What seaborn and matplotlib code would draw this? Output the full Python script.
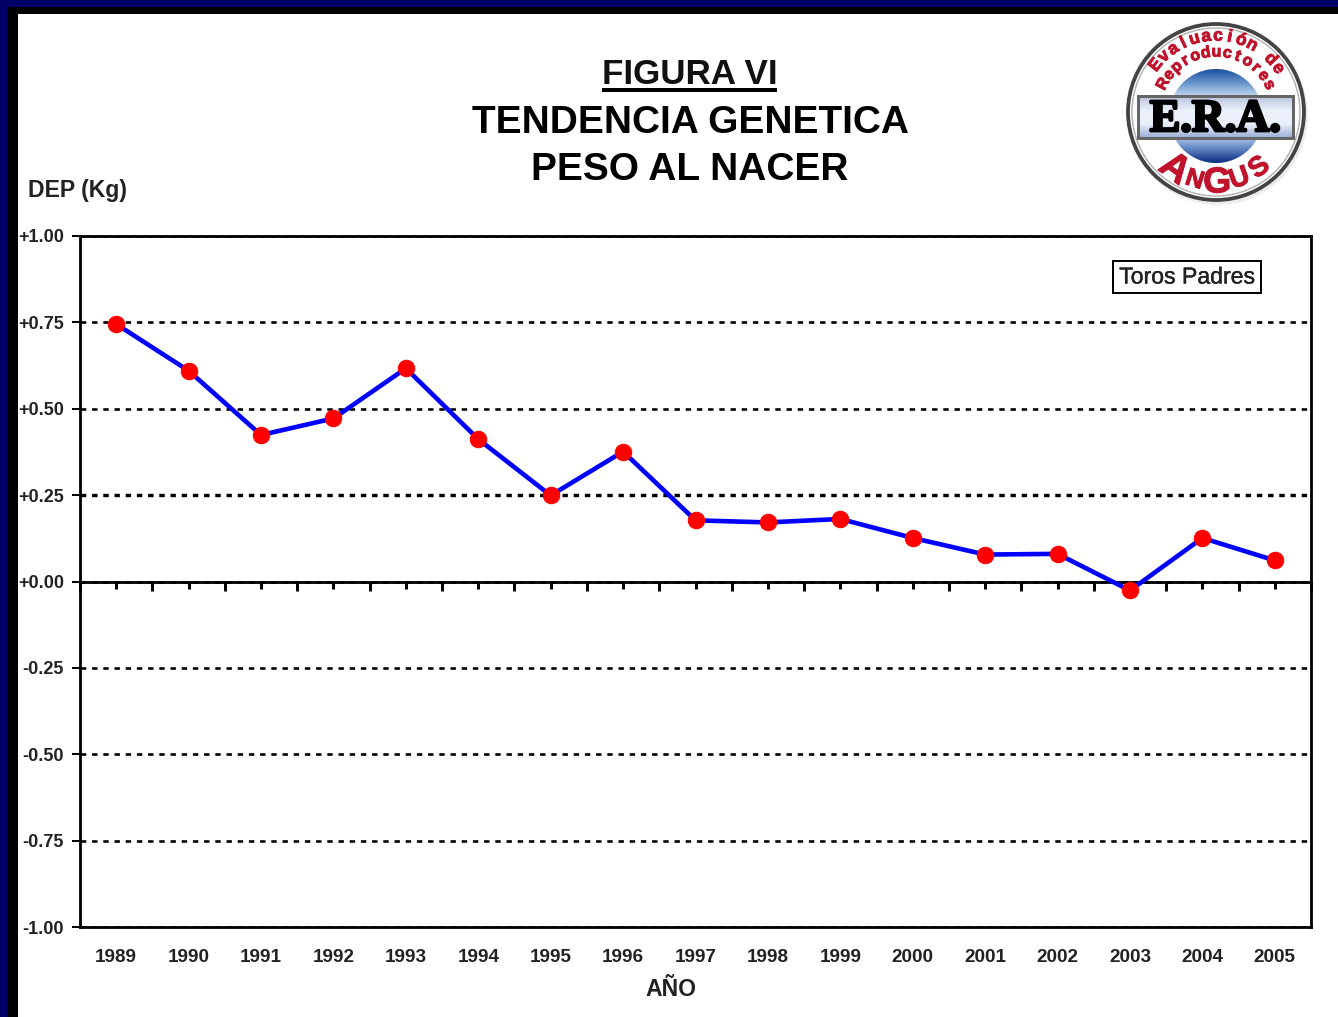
import numpy as np
import pandas as pd
import matplotlib
matplotlib.use('Agg')
import matplotlib.pyplot as plt
import matplotlib.patheffects as pe
from matplotlib.patches import Circle, Rectangle
from matplotlib.ticker import FixedLocator
import seaborn as sns

# Data
years = ['1989', '1990', '1991', '1992', '1993', '1994', '1995', '1996', '1997',
         '1998', '1999', '2000', '2001', '2002', '2003', '2004', '2005']
dep = [0.745, 0.61, 0.424, 0.472, 0.617, 0.412, 0.249, 0.376, 0.177,
       0.171, 0.181, 0.126, 0.078, 0.08, -0.026, 0.126, 0.061]
y_ticks = [1.0, 0.75, 0.5, 0.25, 0.0, -0.25, -0.5, -0.75, -1.0]
y_labels = ['+1.00', '+0.75', '+0.50', '+0.25', '+0.00', '-0.25', '-0.50', '-0.75', '-1.00']

W, H = 1338, 1017
PX = 0.72  # points per pixel at dpi 100

sns.set_theme(style='white')
plt.rcParams['font.family'] = ['Liberation Sans', 'DejaVu Sans']
plt.rcParams['lines.scale_dashes'] = False

fig = plt.figure(figsize=(W / 100, H / 100), dpi=100, facecolor='white')
ax = fig.add_axes([80 / W, 1 - 927 / H, (1311 - 80) / W, (927 - 236) / H])

df = pd.DataFrame({'year': years, 'dep': dep})
sns.lineplot(data=df, x='year', y='dep', ax=ax, color='#0000ff', linewidth=4.6 * PX,
             marker='o', markersize=16.5 * PX, markerfacecolor='#ff0000',
             markeredgecolor='#ff0000', markeredgewidth=1 * PX, errorbar=None, zorder=5)

ax.set_xlim(-0.5, len(years) - 0.5)
ax.set_ylim(-1, 1)
ax.set_xlabel('')
ax.set_ylabel('')
ax.set_yticks(y_ticks)
ax.set_yticklabels(y_labels, fontsize=13, fontweight='bold', color='#222222')
ax.tick_params(axis='x', length=0, pad=15.5, labelsize=13.6, labelcolor='#222222')
for lab in ax.get_xticklabels():
    lab.set_fontweight('bold')
ax.tick_params(axis='y', left=True, length=8 * PX, width=2 * PX, color='black', pad=8 * PX)

# dotted grid, first dot a little in from the frame
ax.grid(axis='y', color='black', linewidth=2.6 * PX,
        linestyle=(-0.4 * PX, (5.4 * PX, 5.8 * PX)))
for val, gl in zip(y_ticks, ax.get_ygridlines()):
    gl.set_dash_capstyle('butt')
    if val == 0.25:
        gl.set_linewidth(3.4 * PX)
ax.set_axisbelow(True)
for s in ax.spines.values():
    s.set_linewidth(2.8 * PX)
    s.set_color('black')

# zero line with its ticks, at centres and between years
zero = ax.secondary_xaxis(0.5)
zero.set_alignment('bottom')
zero.spines['bottom'].set_linewidth(2.8 * PX)
zero.spines['bottom'].set_color('black')
zero.xaxis.set_major_locator(FixedLocator(np.arange(len(years))))
zero.xaxis.set_minor_locator(FixedLocator(np.arange(len(years) + 1) - 0.5))
zero.tick_params(axis='x', which='major', length=6.5 * PX, width=3 * PX, color='black', labelbottom=False, direction='out')
zero.tick_params(axis='x', which='minor', length=8.5 * PX, width=3 * PX, color='black', direction='out')
zero.set_xticklabels([])

# overlay in pixel coordinates for the frame, titles and logo
ov = fig.add_axes([0, 0, 1, 1], zorder=10)
ov.patch.set_alpha(0)
ov.axis('off')


def set_px():
    ov.set_xlim(0, W)
    ov.set_ylim(H, 0)


set_px()
ov.add_patch(Rectangle((0, 0), W, 7, color='#000066', lw=0))
ov.add_patch(Rectangle((0, 0), 7, H, color='#000066', lw=0))
ov.add_patch(Rectangle((7, 7), W, 7, color='black', lw=0))
ov.add_patch(Rectangle((7, 7), 11, H, color='black', lw=0))

ov.text(690, 74, 'FIGURA VI', ha='center', va='center', fontsize=25.2, fontweight='bold', color='#111111')
ov.add_patch(Rectangle((602, 88), 175, 4, color='black', lw=0))
ov.text(690, 123, 'TENDENCIA GENETICA', ha='center', va='center', fontsize=28, fontweight='bold', color='black')
ov.text(690, 170, 'PESO AL NACER', ha='center', va='center', fontsize=28, fontweight='bold', color='black')
ov.text(28, 191, 'DEP (Kg)', ha='left', va='center', fontsize=16.6, fontweight='bold', color='#222222')
ov.text(671, 990, 'AÑO', ha='center', va='center', fontsize=16.6, fontweight='bold', color='#222222')

# series tag
ov.add_patch(Rectangle((1113, 261), 148, 32, fc='white', ec='black', lw=2 * PX))
ov.text(1187, 277, 'Toros Padres', ha='center', va='center', fontsize=16.6, color='#222222',
        path_effects=[pe.withStroke(linewidth=0.3, foreground='#222222')])

# logo
cx, cy, R = 1216, 112, 88
ov.add_patch(Circle((cx + 2, cy + 3), R + 2, fc='#dddddd', ec='none', alpha=0.5))
ov.add_patch(Circle((cx, cy), R, fc='white', ec='#444444', lw=3.8 * PX))
ov.add_patch(Circle((cx, cy), R - 4, fc='none', ec='#b5b5b5', lw=1.5 * PX))

grad = np.array([[0.10, 0.30, 0.62], [0.45, 0.62, 0.82], [0.88, 0.92, 0.97], [1, 1, 1],
                 [0.85, 0.90, 0.96], [0.40, 0.55, 0.78], [0.04, 0.16, 0.50]])
pos = np.linspace(0, 1, 60)
img = np.stack([np.interp(pos, np.linspace(0, 1, 7), grad[:, c]) for c in range(3)], axis=1)[:, None, :]
im = ov.imshow(img, extent=(1170, 1262, 164, 68), aspect='auto', zorder=2)
im.set_clip_path(Circle((1216, 116), 47, transform=ov.transData))

box_grad = np.array([[0.72, 0.76, 0.86], [0.92, 0.94, 0.98], [0.92, 0.94, 0.98], [0.60, 0.68, 0.84]])
pos = np.linspace(0, 1, 40)
box_img = np.stack([np.interp(pos, np.linspace(0, 1, 4), box_grad[:, c]) for c in range(3)], axis=1)[:, None, :]
ov.imshow(box_img, extent=(1138, 1293, 138, 96), aspect='auto', zorder=3)
ov.add_patch(Rectangle((1138, 96), 155, 42, fc='none', ec='#666666', lw=3 * PX, zorder=4))
ov.text(1215.5, 120, 'E.R.A.', ha='center', va='center', fontsize=33, fontweight='bold',
        family='Liberation Serif', color='black', zorder=5,
        path_effects=[pe.withStroke(linewidth=2, foreground='black')])
set_px()


def arc_text(chars, radius, start, end, size, bottom=False, sizes=None):
    # one glyph at a time along a circle round the logo centre
    for i, (ch, ang) in enumerate(zip(chars, np.linspace(start, end, len(chars)))):
        a = np.radians(ang)
        if bottom:
            x, y = cx + radius * np.sin(a), cy + radius * np.cos(a)
            rot = ang
        else:
            x, y = cx + radius * np.sin(a), cy - radius * np.cos(a)
            rot = -ang
        ov.text(x, y, ch, ha='center', va='center', rotation=rot, rotation_mode='anchor',
                fontsize=sizes[i] if sizes else size, fontweight='bold', color='#c0142c', zorder=6,
                path_effects=[pe.withStroke(linewidth=0.7, foreground='#c0142c')])


arc_text('Evaluación de', 76, -52, 55, 12.5)
arc_text('Reproductores', 60, -62, 63, 11.5)
arc_text('ANGUS', 71, -36, 38, 20, bottom=True, sizes=[28, 18, 26, 20, 20])

fig.savefig('out.png', dpi=100, facecolor='white')
